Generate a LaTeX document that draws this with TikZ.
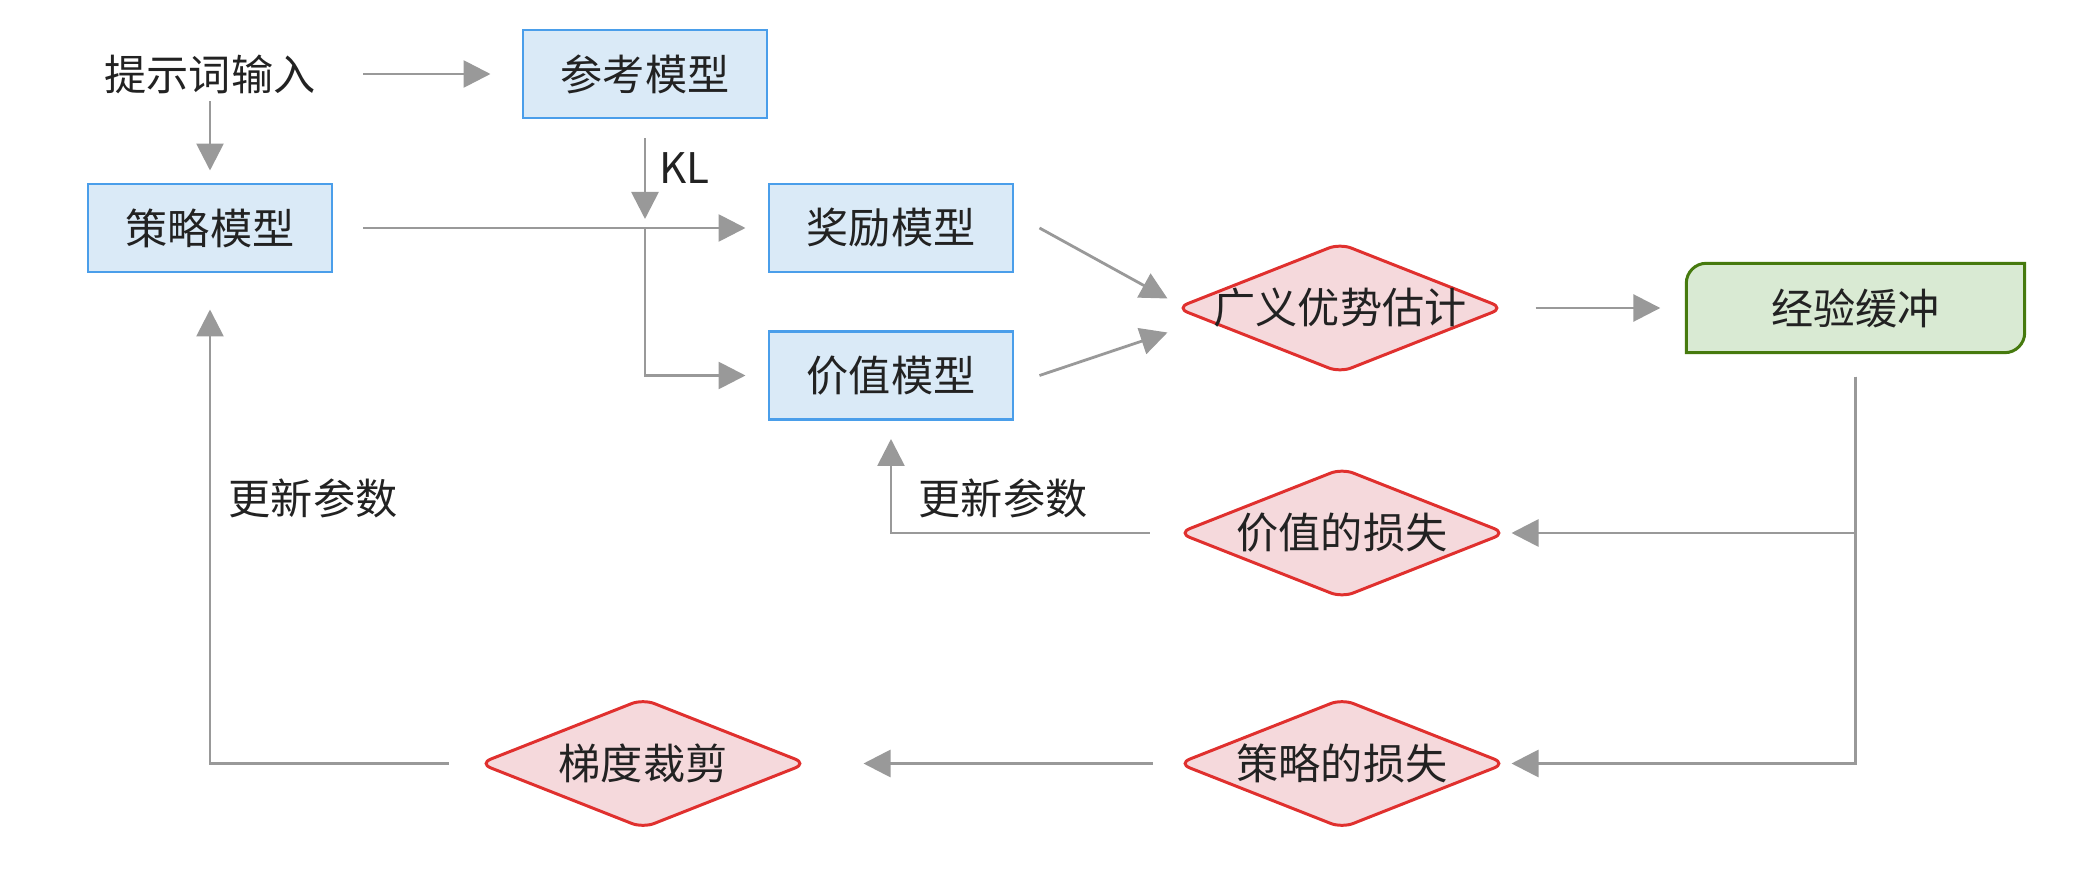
\documentclass[tikz,border=0pt]{standalone}
\usepackage{fontspec}
\setmainfont{Noto Sans CJK SC}
\usepackage{tikz}
\usetikzlibrary{shapes.geometric,arrows.meta,backgrounds}
\definecolor{boxfill}{HTML}{DAEAF7}
\definecolor{boxline}{HTML}{4A9EEA}
\definecolor{dfill}{HTML}{F5D9DC}
\definecolor{dline}{HTML}{E0302E}
\definecolor{bfill}{HTML}{D9EAD3}
\definecolor{bline}{HTML}{467A0E}
\definecolor{arrowgray}{HTML}{999999}
\definecolor{txt}{HTML}{222222}
\newcommand{\dtext}[1]{\makebox[0pt]{#1}}

\begin{document}
\begin{tikzpicture}
  [font=\fontsize{12pt}{14pt}\selectfont,text=txt,
   model/.style={rectangle,draw=boxline,fill=boxfill,line width=0.85pt,minimum width=2.44cm,minimum height=0.88cm,inner sep=0pt},
   calc/.style={diamond,draw=dline,fill=dfill,line width=0.85pt,minimum width=3.28cm,minimum height=1.3cm,inner sep=0pt,rounded corners=1.2mm},
   flow/.style={draw=arrowgray,line width=0.8pt,-{Triangle[length=2.7mm,width=2.7mm]}}]

  \useasboundingbox (0,0) rectangle (21,8.94);

  \node[inner sep=0pt] (n1) at (2.10,8.20) {提示词输入};
  \node[model] (n2) at (6.45,8.20) {参考模型};
  \node[model] (n3) at (2.10,6.66) {策略模型};
  \node[model] (n4) at (8.91,6.66) {奖励模型};
  \node[model] (n5) at (8.91,5.185) {价值模型};
  \node[calc] (n6) at (13.40,5.86) {\dtext{广义优势估计}};
  \node[minimum width=3.37cm,minimum height=0.88cm,inner sep=0pt] (n7) at (18.555,5.86) {经验缓冲};
  \node[calc] (n8) at (13.42,3.61) {\dtext{价值的损失}};
  \node[calc] (n9) at (13.42,1.305) {\dtext{策略的损失}};
  \node[calc] (n10) at (6.43,1.305) {\dtext{梯度裁剪}};
  \node[anchor=west,inner sep=0pt] (l1) at (6.59,7.26) {KL};
  \node (l2) at (10.03,3.96) {更新参数};
  \node (l3) at (3.13,3.96) {更新参数};
  \coordinate (j1) at (6.45,6.66);

  % buffer box, rounded at two corners
  \begin{scope}[on background layer]
    \draw[draw=bline,fill=bfill,line width=0.85pt] (n7.north east) -- ([yshift=2mm]n7.south east)
      arc[start angle=0,end angle=-90,radius=2mm] -- (n7.south west) -- ([yshift=-2mm]n7.north west)
      arc[start angle=180,end angle=90,radius=2mm] -- cycle;
  \end{scope}

  \draw[flow,shorten <=4.7mm,shorten >=3.1mm] (n1) -- (n2);
  \draw[flow,shorten <=0.7mm,shorten >=1.2mm] (n1) -- (n3);
  \draw[flow,shorten <=1.9mm,shorten >=0.9mm] (n2) -- (j1);
  \draw[flow,shorten <=3mm,shorten >=2.2mm] (n3) -- (n4);
  \draw[flow,shorten >=2.2mm] (j1) |- (n5);
  \draw[flow] ([xshift=2.5mm]n4.east) -- ([xshift=-0.7mm,yshift=0.95mm]n6.west);
  \draw[flow] ([xshift=2.5mm]n5.east) -- ([xshift=-0.7mm,yshift=-2.45mm]n6.west);
  \draw[flow,shorten <=3mm,shorten >=2.6mm] (n6) -- (n7);
  \foreach \to in {n8,n9}
    \draw[flow,shorten <=2.4mm,shorten >=0.4mm] (n7) |- (\to);
  \draw[flow,shorten <=2.7mm,shorten >=1.8mm] (n8) -| (n5);
  \draw[flow,shorten <=2.4mm,shorten >=5.5mm] (n9) -- (n10);
  \draw[flow,shorten <=2.9mm,shorten >=3.6mm] (n10) -| (n3);
\end{tikzpicture}
\end{document}
